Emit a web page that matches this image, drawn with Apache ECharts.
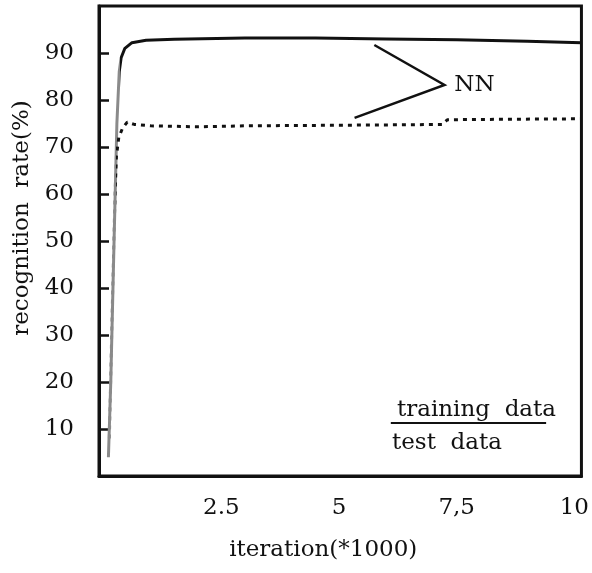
<!DOCTYPE html>
<html>
<head>
<meta charset="utf-8">
<script src="https://cdn.jsdelivr.net/npm/echarts@6/dist/echarts.min.js"></script>
<style>
html,body{margin:0;padding:0;background:#fff;}
#chart{width:592px;height:573px;}
</style>
</head>
<body>
<div id="chart"></div>
<script>
// ---- data (x in thousands of iterations, y in %) ----
const xTickValues = [2.5, 5, 7.5, 10];
const xTickLabels = ['2.5', '5', '7,5', '10'];
const yTickValues = [10, 20, 30, 40, 50, 60, 70, 80, 90];

const trainX = [0.10, 0.15, 0.22, 0.28, 0.33, 0.37, 0.45, 0.60, 0.90, 1.5, 3.0, 4.5, 6.0, 7.5, 9.0, 10.15];
const trainY = [4, 20, 50, 75, 86, 89, 91, 92.2, 92.7, 92.9, 93.2, 93.2, 93.0, 92.8, 92.5, 92.2];

const testX = [0.12, 0.18, 0.24, 0.27, 0.32, 0.40, 0.50, 0.65, 1.0, 2.0, 3.0, 4.5, 6.0, 7.2, 7.3, 8.5, 10.15];
const testY = [8, 35, 60, 68, 72, 74, 75.3, 74.8, 74.5, 74.3, 74.5, 74.6, 74.7, 74.8, 75.8, 75.9, 76.0];

const seriesNames = ['training data', 'test data'];
const annotationLabel = 'NN';
const xAxisTitle = 'iteration(*1000)';
const yAxisTitle = 'recognition  rate(%)';

// ---- chart ----
const FONT = 'DejaVu Serif';
const INK = '#111';
const FAINT = '#8a8a8a';
const chart = echarts.init(document.getElementById('chart'), null, {renderer: 'canvas'});

function zip(xs, ys) { return xs.map((x, i) => [x, ys[i]]); }

const option = {
  animation: false,
  backgroundColor: '#fff',
  grid: {
    left: 99, right: 6, top: 6, bottom: 97,
    show: true, borderColor: INK, borderWidth: 3, backgroundColor: 'transparent'
  },
  xAxis: {
    type: 'value',
    min: -0.1, max: 10.15,
    name: xAxisTitle,
    nameLocation: 'middle',
    nameGap: 63,
    nameTextStyle: {fontFamily: FONT, fontSize: 23, color: INK, padding: [0, 34, 0, 0]},
    axisLine: {show: true, onZero: false, lineStyle: {color: INK, width: 3}},
    axisTick: {show: false},
    splitLine: {show: false},
    axisLabel: {
      customValues: xTickValues,
      formatter: v => { const i = xTickValues.indexOf(v); return i >= 0 ? xTickLabels[i] : ''; },
      fontFamily: FONT, fontSize: 23, color: INK, margin: 21
    }
  },
  yAxis: {
    type: 'value',
    min: 0, max: 100,
    name: yAxisTitle,
    nameLocation: 'middle',
    nameRotate: 90,
    nameGap: 64,
    nameTextStyle: {fontFamily: FONT, fontSize: 23, color: INK, padding: [0, 0, 0, 46]},
    axisLine: {show: true, onZero: false, lineStyle: {color: INK, width: 3}},
    axisTick: {show: true, inside: true, length: 10, lineStyle: {color: INK, width: 2.5}, customValues: yTickValues},
    splitLine: {show: false},
    axisLabel: {
      customValues: yTickValues,
      fontFamily: FONT, fontSize: 23, color: INK, margin: 25
    }
  },
  series: [
    {
      name: seriesNames[0], type: 'line', showSymbol: false,
      data: zip(trainX, trainY),
      lineStyle: {color: INK, width: 3, type: 'solid'},
      z: 3
    },
    {
      name: seriesNames[1], type: 'line', showSymbol: false,
      data: zip(testX, testY),
      lineStyle: {color: INK, width: 3, type: [4, 5]},
      z: 3
    }
  ]
};
chart.setOption(option);

const p = (x, y) => chart.convertToPixel({gridIndex: 0}, [x, y]);
const W = chart.getWidth();

// faint early (rise) part of each curve, like the scanned original
function riseGradient(xBreak) {
  const o = Math.min(Math.max(p(xBreak, 0)[0] / W, 0), 1);
  return new echarts.graphic.LinearGradient(0, 0, W, 0, [
    {offset: 0, color: FAINT}, {offset: o, color: FAINT},
    {offset: o, color: INK}, {offset: 1, color: INK}
  ], true);
}

// annotation placed in data space
const b1 = p(5.75, 91.7), b2 = p(7.24, 83.2), b3 = p(5.33, 76.2), nn = p(7.45, 83.2);
const lg1 = p(6.1, 12.5), lg2 = p(9.4, 12.5);
chart.setOption({
  series: [
    {lineStyle: {color: riseGradient(0.34)}},
    {lineStyle: {color: riseGradient(0.27)}}
  ],
  graphic: [
    {type: 'polyline', shape: {points: [b1, b2, b3]}, style: {stroke: INK, lineWidth: 2.5, fill: null}, z: 10},
    {type: 'text', x: nn[0], y: nn[1], style: {text: annotationLabel, font: '23px "' + FONT + '"', fill: INK, textAlign: 'left', textVerticalAlign: 'middle'}, z: 10},
    {type: 'text', x: 397, y: 410, style: {text: 'training  data', font: '23px "' + FONT + '"', fill: INK, textAlign: 'left', textVerticalAlign: 'middle'}, z: 10},
    {type: 'line', shape: {x1: lg1[0], y1: 423, x2: lg2[0], y2: 423}, style: {stroke: INK, lineWidth: 2}, z: 10},
    {type: 'text', x: 392, y: 443, style: {text: 'test  data', font: '23px "' + FONT + '"', fill: INK, textAlign: 'left', textVerticalAlign: 'middle'}, z: 10}
  ]
});
</script>
</body>
</html>
